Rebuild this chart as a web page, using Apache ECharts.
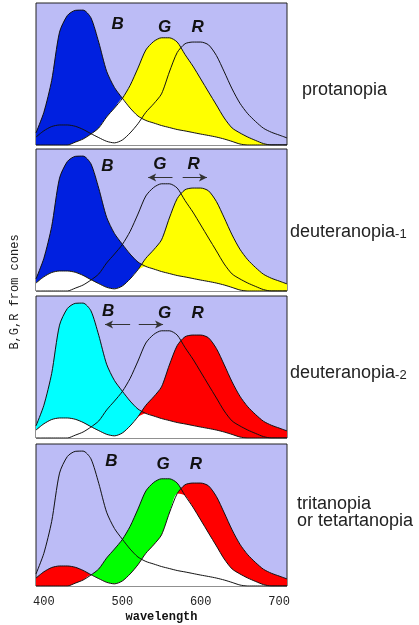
<!DOCTYPE html>
<html>
<head>
<meta charset="utf-8">
<script src="https://cdn.jsdelivr.net/npm/echarts@6/dist/echarts.min.js"></script>
<style>
  html, body { margin: 0; padding: 0; background: #fff; }
  #chart { width: 419px; height: 625px; }
</style>
</head>
<body>
<div id="chart"></div>
<script>
// cone sensitivity curves (0..100 = panel height), every 10 nm
var wavelengths = [390, 400, 410, 420, 430, 440, 450, 460, 470, 480, 490, 500, 510, 520, 530, 540,
  550, 560, 570, 580, 590, 600, 610, 620, 630, 640, 650, 660, 670, 680, 690, 700, 710];
var coneB = [8.5, 23, 45.5, 79.5, 91.2, 94.8, 95, 89.6, 72.3, 52, 40.5, 33, 26, 20.4, 17.3, 15.5,
  13.7, 12.3, 10.9, 9.9, 8.8, 7.7, 6.7, 5.6, 4.2, 2.5, 0.7, 0, 0, 0, 0, 0, 0];
var coneG = [0, 0, 0, 0, 0, 2, 4.2, 7.7, 12, 19.7, 26, 32.7, 42, 54.2, 66.9, 72.9,
  75.5, 75.5, 72.5, 63.7, 55.6, 46.5, 37.3, 28.2, 19, 12, 8.5, 5.6, 3.2, 1, 0, 0, 0];
var coneR = [5.6, 10, 13, 14.1, 14.1, 13.2, 11, 8, 5.2, 2.6, 1.5, 3.5, 8.5, 15, 23, 29,
  36, 51.4, 65.1, 71.3, 72.5, 72.5, 70.5, 63, 51.5, 39.5, 29.4, 22, 16.5, 11.8, 9, 7, 5];
var tickLabels = [400, 500, 600, 700];
var panelNames = ['protanopia', 'deuteranopia-1', 'deuteranopia-2', 'tritanopia\nor tetartanopia'];

var curves = { B: coneB, G: coneG, R: coneR };

// which two cones are filled in each panel, and with what colour
var panels = [
  { top: 3, fills: [['B', '#0020e0'], ['G', '#ffff00']],
    letters: [['B', 494, 85], ['G', 554, 83], ['R', 596, 83]], arrows: [] },
  { top: 149, fills: [['B', '#0020e0'], ['R', '#ffff00']],
    letters: [['B', 481, 88], ['G', 548, 89], ['R', 591, 89]],
    arrows: [[533, 564, 'left'], [577, 608, 'right']] },
  { top: 296, fills: [['B', '#00ffff'], ['R', '#ff0000']],
    letters: [['B', 482, 89], ['G', 554, 88], ['R', 596, 88]],
    arrows: [[478, 510, 'left'], [521, 552, 'right']] },
  { top: 444, fills: [['G', '#00ff00'], ['R', '#ff0000']],
    letters: [['B', 486, 88], ['G', 552, 86], ['R', 594, 86]], arrows: [] }
];

var chart = echarts.init(document.getElementById('chart'));

function pairs(vals) {
  return wavelengths.map(function (w, i) { return [w, vals[i]]; });
}

var grids = [], xAxes = [], yAxes = [], series = [];
var SMOOTH = 0.25;

panels.forEach(function (p, k) {
  var last = k === panels.length - 1;
  grids.push({
    left: 36, width: 251, top: p.top, height: 142,
    show: true, backgroundColor: '#bcbcf6', borderColor: '#222', borderWidth: 1
  });
  xAxes.push({
    type: 'value', gridIndex: k, min: 390, max: 710, show: last,
    axisLine: { show: false }, axisTick: { show: false }, splitLine: { show: false },
    axisLabel: {
      customValues: tickLabels, margin: 10,
      fontFamily: 'Liberation Mono', fontSize: 12, color: '#222'
    },
    name: last ? 'wavelength' : '', nameLocation: 'middle', nameGap: 25,
    nameTextStyle: { fontFamily: 'Liberation Mono', fontSize: 12, fontWeight: 'bold', color: '#111' }
  });
  yAxes.push({ type: 'value', gridIndex: k, min: 0, max: 100, show: false });

  // coloured areas
  p.fills.forEach(function (f) {
    series.push({
      type: 'line', xAxisIndex: k, yAxisIndex: k, data: pairs(curves[f[0]]),
      smooth: SMOOTH, symbol: 'none', silent: true, animation: false,
      lineStyle: { width: 0 }, areaStyle: { color: f[1], opacity: 1 }
    });
  });
  // overlap of the two filled cones is white
  var a = curves[p.fills[0][0]], c = curves[p.fills[1][0]];
  var overlap = a.map(function (v, i) { return Math.min(v, c[i]); });
  series.push({
    type: 'line', xAxisIndex: k, yAxisIndex: k, data: pairs(overlap),
    smooth: SMOOTH, symbol: 'none', silent: true, animation: false,
    lineStyle: { width: 0 }, areaStyle: { color: '#ffffff', opacity: 1 }
  });
  // outlines
  ['B', 'G', 'R'].forEach(function (n, j) {
    var s = {
      type: 'line', xAxisIndex: k, yAxisIndex: k, data: pairs(curves[n]),
      smooth: SMOOTH, symbol: 'none', silent: true, animation: false,
      lineStyle: { color: '#111', width: 1 }
    };
    if (j === 2 && p.arrows.length) {
      s.markLine = {
        silent: true, animation: false, symbol: ['arrow', 'none'], symbolSize: [6, 8],
        label: { show: false },
        lineStyle: { color: '#333', width: 1, type: 'solid' },
        data: p.arrows.map(function (ar) {
          var from = ar[2] === 'left' ? ar[0] : ar[1];
          var to = ar[2] === 'left' ? ar[1] : ar[0];
          return [{ coord: [from, 80] }, { coord: [to, 80] }];
        })
      };
    }
    series.push(s);
  });
});

chart.setOption({
  animation: false,
  grid: grids, xAxis: xAxes, yAxis: yAxes, series: series
});

// text annotations
var graphics = [];
panels.forEach(function (p, k) {
  p.letters.forEach(function (l) {
    var pt = chart.convertToPixel({ gridIndex: k }, [l[1], l[2]]);
    graphics.push({
      type: 'text', x: pt[0], y: pt[1], silent: true,
      style: {
        text: l[0], font: 'italic bold 17px "Liberation Sans"', fill: '#111',
        align: 'center', verticalAlign: 'middle'
      }
    });
  });
});

var nameSpots = [[302, 90], [290, 232], [290, 373], [297, 513]];
panelNames.forEach(function (n, k) {
  var m = n.match(/^(.*?)(-\d)$/);
  var style = {
    fill: '#222', align: 'left', verticalAlign: 'middle',
    font: '18px "Liberation Sans"', lineHeight: 17
  };
  if (m) {
    style.text = '{a|' + m[1] + '}{b|' + m[2] + '}';
    style.rich = {
      a: { font: '18px "Liberation Sans"', fill: '#222' },
      b: { font: '13px "Liberation Sans"', fill: '#222', padding: [4, 0, 0, 0] }
    };
  } else {
    style.text = n;
  }
  graphics.push({ type: 'text', x: nameSpots[k][0], y: nameSpots[k][1], silent: true, style: style });
});

graphics.push({
  type: 'text', x: 15, y: 292, rotation: Math.PI / 2, silent: true,
  style: {
    text: 'B,G,R from cones', font: '12px "Liberation Mono"', fill: '#222',
    align: 'center', verticalAlign: 'middle'
  }
});

chart.setOption({ graphic: graphics });
</script>
</body>
</html>
